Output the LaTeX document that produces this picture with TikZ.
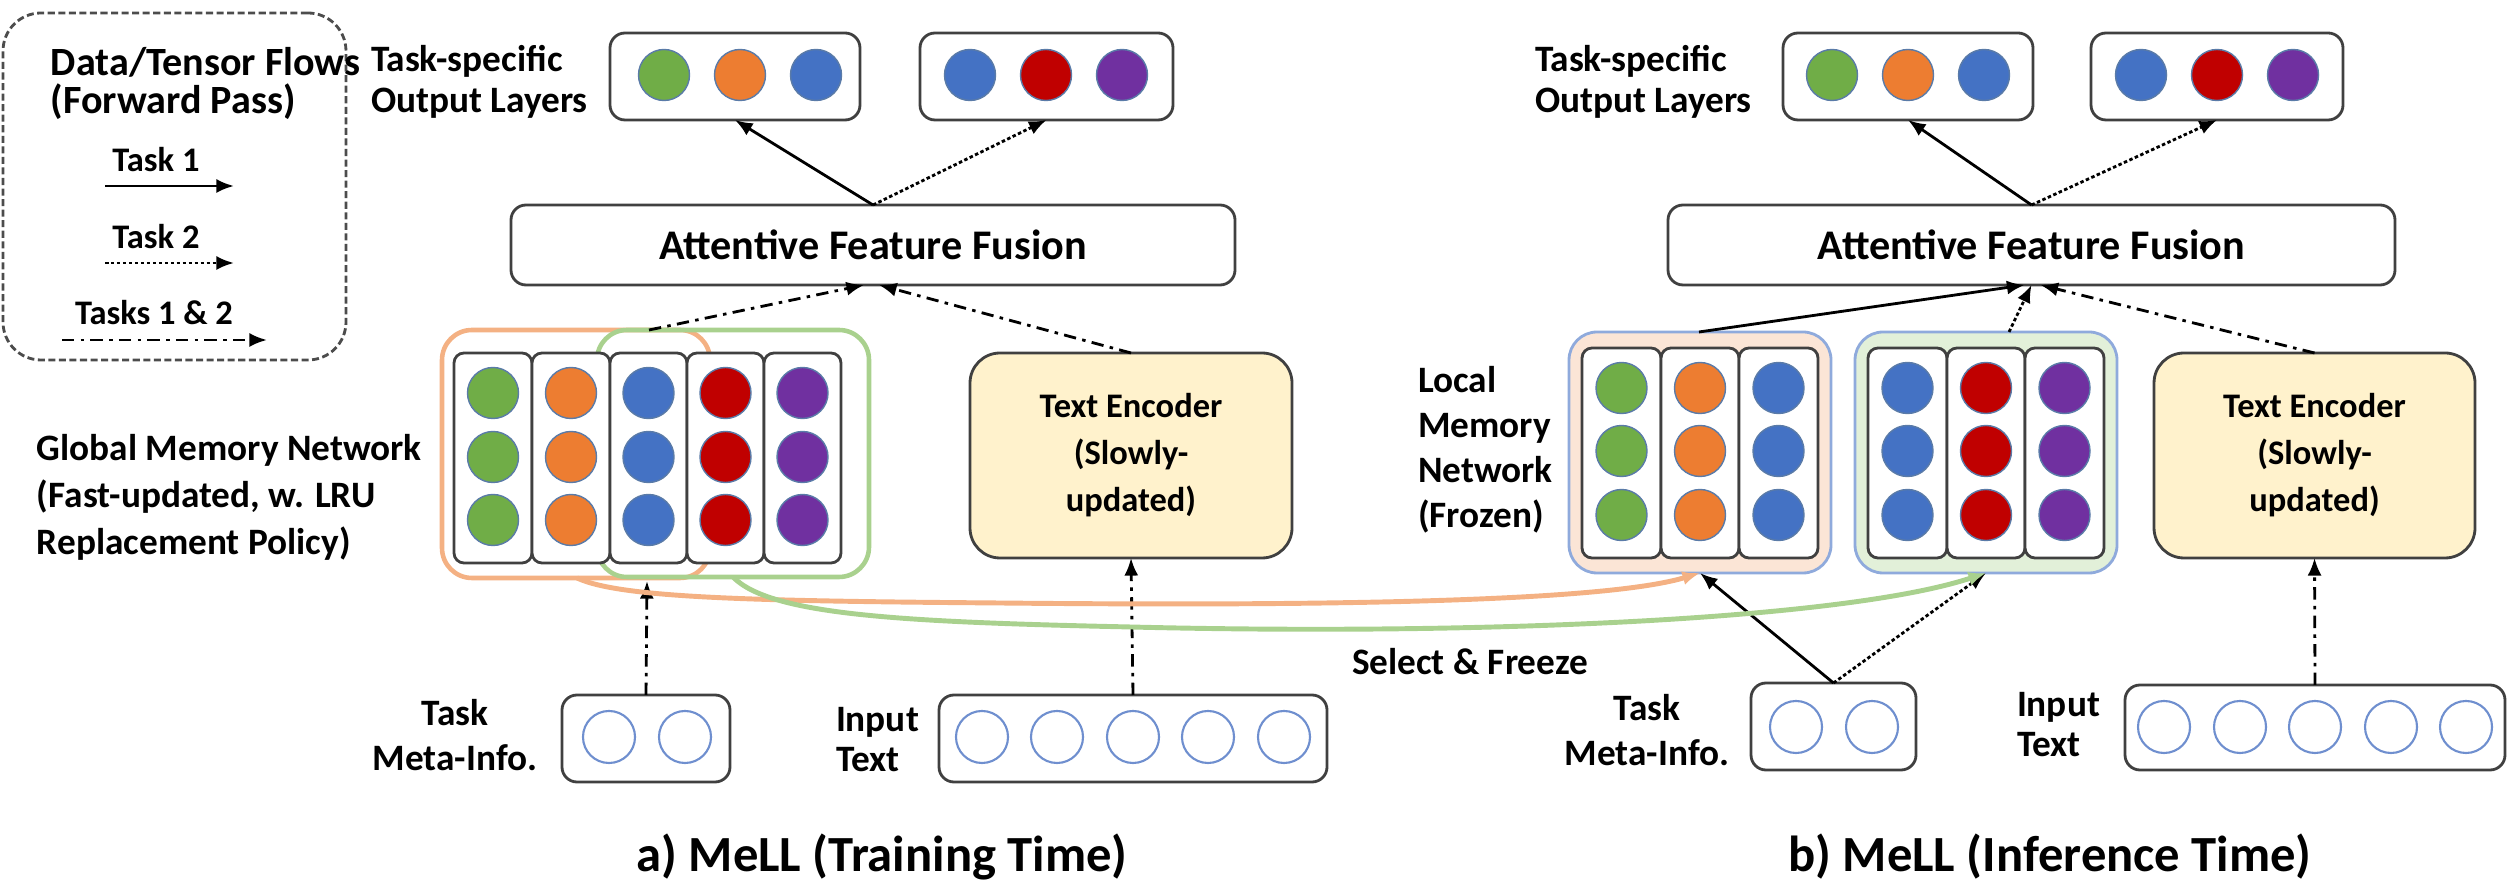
\documentclass[tikz,border=0pt]{standalone}
\usepackage{fontspec}
\setmainfont{Carlito}
\usetikzlibrary{arrows.meta,fit,calc}
\definecolor{cgreen}{HTML}{70AD47}
\definecolor{corange}{HTML}{ED7D31}
\definecolor{cblue}{HTML}{4472C4}
\definecolor{cred}{HTML}{C00000}
\definecolor{cpurple}{HTML}{7030A0}
\definecolor{hlorange}{HTML}{F4B183}
\definecolor{hlgreen}{HTML}{A9D18E}
\definecolor{peach}{HTML}{FBE5D6}
\definecolor{palegreen}{HTML}{E2F0D9}
\definecolor{cream}{HTML}{FFF2CC}
\definecolor{frameblue}{HTML}{8FAADC}
\definecolor{dotedge}{HTML}{5A7BA8}
\definecolor{ringblue}{HTML}{6F8FCF}
\definecolor{boxline}{HTML}{404040}
\begin{document}
\begin{tikzpicture}[x=0.01cm,y=-0.01cm,
  every node/.style={font=\fontsize{10.6pt}{13.4pt}\selectfont\bfseries, inner sep=0pt, outer sep=0pt},
  framebox/.style={draw=boxline, line width=0.8pt, rounded corners=0.15cm, fill=white},
  colbox/.style={draw=boxline, line width=0.8pt, rounded corners=0.1cm, fill=white},
  ball/.style={circle, minimum size=0.51cm, draw=dotedge, line width=0.4pt},
  ringball/.style={circle, minimum size=0.52cm, draw=ringblue, line width=0.6pt, fill=white},
  enc/.style={draw=boxline, line width=0.8pt, rounded corners=0.3cm, fill=cream},
  arrowtip/.style={-{Latex[length=5pt,width=4pt]}},
  tone/.style={arrowtip, line width=0.8pt, black},
  ttwo/.style={arrowtip, line width=0.8pt, black, dash pattern=on 1pt off 0.7pt},
  tboth/.style={arrowtip, line width=0.8pt, black, dash pattern=on 3.5pt off 1.8pt on 1pt off 1.8pt},
  captext/.style={font=\fontsize{14.4pt}{17pt}\selectfont\bfseries},
  afftext/.style={font=\fontsize{12pt}{14pt}\selectfont\bfseries},
  enctext/.style={font=\fontsize{9.8pt}{13.4pt}\selectfont\bfseries, align=center},
  legtitle/.style={font=\fontsize{11.4pt}{13.4pt}\selectfont\bfseries},
  legtext/.style={font=\fontsize{9.8pt}{13pt}\selectfont\bfseries}
]
\useasboundingbox (0,0) rectangle (2509,886);

% ---------------- Legend ----------------
\node[fit={(3,13) (346,360)}, draw=black!70, line width=0.8pt, dash pattern=on 2pt off 1pt, rounded corners=0.38cm] (legend) {};
\node[legtitle, anchor=west] (legA) at (51,62) {Data/Tensor Flows};
\node[legtitle, anchor=west] (legB) at (51,102) {(Forward Pass)};
\node[legtext] (legT1) at (156,160) {Task 1};
\node[legtext] (legT2) at (156,237) {Task 2};
\node[legtext] (legT12) at (154,313) {Tasks 1 \& 2};
\coordinate (l1a) at (105,186); \coordinate (l1b) at (234,186);
\coordinate (l2a) at (105,263); \coordinate (l2b) at (234,263);
\coordinate (l3a) at (62,340); \coordinate (l3b) at (267,340);
\draw[tone] (l1a) -- (l1b);
\draw[ttwo] (l2a) -- (l2b);
\draw[tboth] (l3a) -- (l3b);

% ---------------- a) Training time ----------------
\node[anchor=west, align=left] (tsA) at (371,82) {Task-specific\\[-1.7pt]Output Layers};
\node[framebox, fit={(610,33) (860,120)}] (oA1) {};
\node[framebox, fit={(920,33) (1173,120)}] (oA2) {};
\node[ball, fill=cgreen] (oA1a) at (664,75) {};
\node[ball, fill=corange] (oA1b) at (740,75) {};
\node[ball, fill=cblue] (oA1c) at (816,75) {};
\node[ball, fill=cblue] (oA2a) at (970,75) {};
\node[ball, fill=cred] (oA2b) at (1046,75) {};
\node[ball, fill=cpurple] (oA2c) at (1122,75) {};

\node[framebox, fit={(511,205) (1235,285)}] (affA) {};
\node[afftext] (affAt) at (affA) {Attentive Feature Fusion};
\draw[tone] (affA.north) -- (oA1.south);
\draw[ttwo] (affA.north) -- (oA2.south);

\node[anchor=west, align=left] (gmlab) at (37,497) {Global Memory Network\\(Fast-updated, w. LRU\\Replacement Policy)};

\node[fit={(442,330) (710,578)}, draw=hlorange, line width=1.3pt, rounded corners=0.3cm] (hlo) {};
\node[fit={(597,330) (869,577)}, draw=hlgreen, line width=1.3pt, rounded corners=0.3cm] (hlg) {};
\foreach \n/\xa/\xb/\c in {1/454/532/cgreen, 2/532/610/corange, 3/610/687/cblue, 4/687/764/cred, 5/764/841/cpurple}{
  \node[colbox, fit={(\xa,353) (\xb,563)}] (gc\n) {};
  \foreach \r/\yy in {1/393, 2/457, 3/520}{
    \node[ball, fill=\c] (gd\n\r) at ($(gc\n.center |- 0,\yy)$) {};
  }
}

\node[enc, fit={(970,353) (1292,558)}] (teA) {};
\node[enctext] (teAt) at (teA) {Text Encoder\\(Slowly-\\updated)};

\coordinate (gmtop) at (649,330);
\draw[tboth] (gmtop) -- ($(affA.south)+(-9,0)$);
\draw[tboth] (teA.north) -- ($(affA.south)+(6,0)$);

\node[framebox, fit={(562,695) (730,782)}] (metaA) {};
\node[ringball] (metaA1) at (609,737) {};
\node[ringball] (metaA2) at (685,737) {};
\node[align=center] (metaAl) at (455,735) {Task\\[-0.6pt]Meta-Info.};
\coordinate (gmbot) at (647,581);
\draw[tboth] (metaA.north) -- (gmbot);

\node[framebox, fit={(939,695) (1327,782)}] (inA) {};
\foreach \i/\xx in {1/982, 2/1057, 3/1133, 4/1208, 5/1284}{
  \node[ringball] (inA\i) at (\xx,737) {};
}
\node[anchor=west, align=left] (inAl) at (836,740) {Input\\[-2pt]Text};
\draw[tboth] (inA.north) -- (teA.south);

\node[captext] (capA) at (882,857) {a) MeLL (Training Time)};

% ---------------- b) Inference time ----------------
\node[anchor=west, align=left] (tsB) at (1535,82) {Task-specific\\[-1.7pt]Output Layers};
\node[framebox, fit={(1783,33) (2033,120)}] (oB1) {};
\node[framebox, fit={(2091,33) (2343,120)}] (oB2) {};
\node[ball, fill=cgreen] (oB1a) at (1832,75) {};
\node[ball, fill=corange] (oB1b) at (1908,75) {};
\node[ball, fill=cblue] (oB1c) at (1984,75) {};
\node[ball, fill=cblue] (oB2a) at (2141,75) {};
\node[ball, fill=cred] (oB2b) at (2217,75) {};
\node[ball, fill=cpurple] (oB2c) at (2293,75) {};

\node[framebox, fit={(1668,205) (2395,285)}] (affB) {};
\node[afftext] (affBt) at (affB) {Attentive Feature Fusion};
\draw[tone] (affB.north) -- (oB1.south);
\draw[ttwo] (affB.north) -- (oB2.south);

\node[anchor=west, align=left] (lmlab) at (1418,450) {Local\\[-0.6pt]Memory\\[-0.6pt]Network\\[-0.6pt](Frozen)};

\node[fit={(1569,332) (1831,573)}, fill=peach, draw=frameblue, line width=0.8pt, rounded corners=0.28cm] (lmo) {};
\node[fit={(1855,332) (2117,573)}, fill=palegreen, draw=frameblue, line width=0.8pt, rounded corners=0.28cm] (lmg) {};
\foreach \n/\xa/\xb/\c in {1/1582/1661/cgreen, 2/1661/1739/corange, 3/1739/1818/cblue,
                          4/1868/1947/cblue, 5/1947/2025/cred, 6/2025/2104/cpurple}{
  \node[colbox, fit={(\xa,348) (\xb,558)}] (lc\n) {};
  \foreach \r/\yy in {1/388, 2/451, 3/515}{
    \node[ball, fill=\c] (ld\n\r) at ($(lc\n.center |- 0,\yy)$) {};
  }
}

\node[enc, fit={(2154,353) (2475,558)}] (teB) {};
\node[enctext] (teBt) at (teB) {Text Encoder\\(Slowly-\\updated)};

\coordinate (lmotop) at (1699,332);
\coordinate (lmgtop) at (2009,332);
\draw[tone] (lmotop) -- ($(affB.south)+(-7,0)$);
\draw[ttwo] (lmgtop) -- ($(affB.south)+(0,0)$);
\draw[tboth] (teB.north) -- ($(affB.south)+(9,0)$);

\node[framebox, fit={(1751,683) (1916,770)}] (metaB) {};
\node[ringball] (metaB1) at (1796,727) {};
\node[ringball] (metaB2) at (1872,727) {};
\node[align=center] (metaBl) at (1647,730) {Task\\[-0.6pt]Meta-Info.};
\draw[tone] (metaB.north) -- (lmo.south);
\draw[ttwo] (metaB.north) -- (lmg.south);

\node[framebox, fit={(2125,685) (2505,770)}] (inB) {};
\foreach \i/\xx in {1/2164, 2/2240, 3/2315, 4/2391, 5/2466}{
  \node[ringball] (inB\i) at (\xx,727) {};
}
\node[anchor=west, align=left] (inBl) at (2017,725) {Input\\[-2pt]Text};
\draw[tboth] (inB.north) -- (teB.south);

\node[captext] (capB) at (2050,857) {b) MeLL (Inference Time)};

% ---------------- Select & Freeze ----------------
\coordinate (os) at (577,578);
\coordinate (gs) at (733,577);
\draw[hlorange, line width=1.4pt, arrowtip] (os) .. controls (620,598) and (750,601) .. (1000,603) .. controls (1300,606) and (1600,603) .. (lmo.south);
\draw[hlgreen, line width=1.4pt, arrowtip] (gs) .. controls (770,615) and (900,622) .. (1131,627) .. controls (1500,636) and (1850,618) .. (lmg.south);
\node (sf) at (1470,662) {Select \& Freeze};

\end{tikzpicture}
\end{document}
